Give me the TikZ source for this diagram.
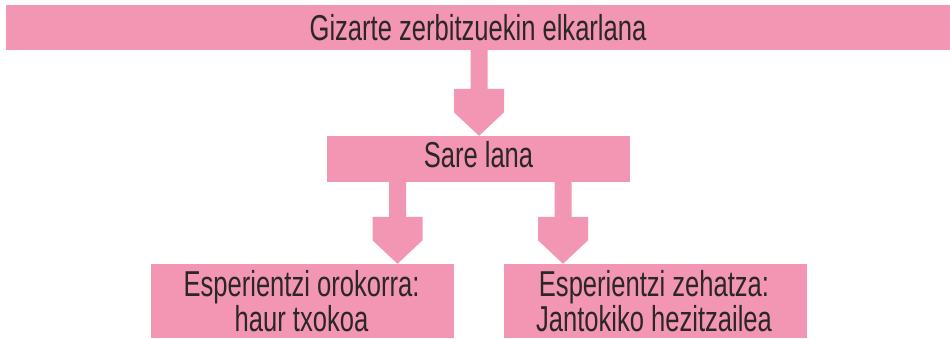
\documentclass[tikz,border=0pt]{standalone}
\usepackage{fontspec}
\setmainfont[FakeStretch=0.71]{Liberation Sans}
\usetikzlibrary{calc}
\definecolor{pinkbox}{RGB}{243,150,179}
\definecolor{ink}{RGB}{43,38,40}
\begin{document}
\begin{tikzpicture}[x=1pt,y=-1pt,
  box/.style={fill=pinkbox, draw=none, inner sep=0pt, rectangle},
  lbl/.style={text=ink, font=\fontsize{36}{27.5}\selectfont, inner sep=0pt, align=center},
  blockarrow/.style={to path={let \p1=(\tikztostart), \p2=(\tikztotarget) in
    (\x1-8.5pt,\y1) -- (\x1-8.5pt,\y2+47pt) -- (\x1-25pt,\y2+47pt) -- (\x1-25pt,\y2+23.5pt)
    -- (\x2,\y2) -- (\x1+25pt,\y2+23.5pt) -- (\x1+25pt,\y2+47pt) -- (\x1+8.5pt,\y2+47pt)
    -- (\x1+8.5pt,\y1) -- cycle}}]
\useasboundingbox (0,0) rectangle (950,339);
\node[box, minimum width=944, minimum height=45] (top) at (478,27.5) {};
\node[box, minimum width=303, minimum height=46] (mid) at (478.5,159) {};
\node[box, minimum width=303, minimum height=74] (lbox) at (302.5,301) {};
\node[box, minimum width=303, minimum height=74] (rbox) at (655.5,301) {};
\coordinate (c1) at (479,0);
\coordinate (c2) at (397.5,0);
\coordinate (c3) at (563,0);
\fill[pinkbox] (top.south -| c1) to[blockarrow] (mid.north -| c1);
\fill[pinkbox] (mid.south -| c2) to[blockarrow] (lbox.north -| c2);
\fill[pinkbox] (mid.south -| c3) to[blockarrow] (rbox.north -| c3);
\node[lbl, anchor=base] (t1) at ($(top.center)+(0,13)$) {Gizarte zerbitzuekin elkarlana};
\node[lbl, anchor=base] (t2) at ($(mid.center)+(0,8.5)$) {Sare lana};
\node[lbl] (t3) at ($(lbox.center)+(-1,0)$) {Esperientzi orokorra:\\haur txokoa};
\node[lbl] (t4) at ($(rbox.center)+(-1.5,0)$) {Esperientzi zehatza:\\Jantokiko hezitzailea};
\end{tikzpicture}
\end{document}
